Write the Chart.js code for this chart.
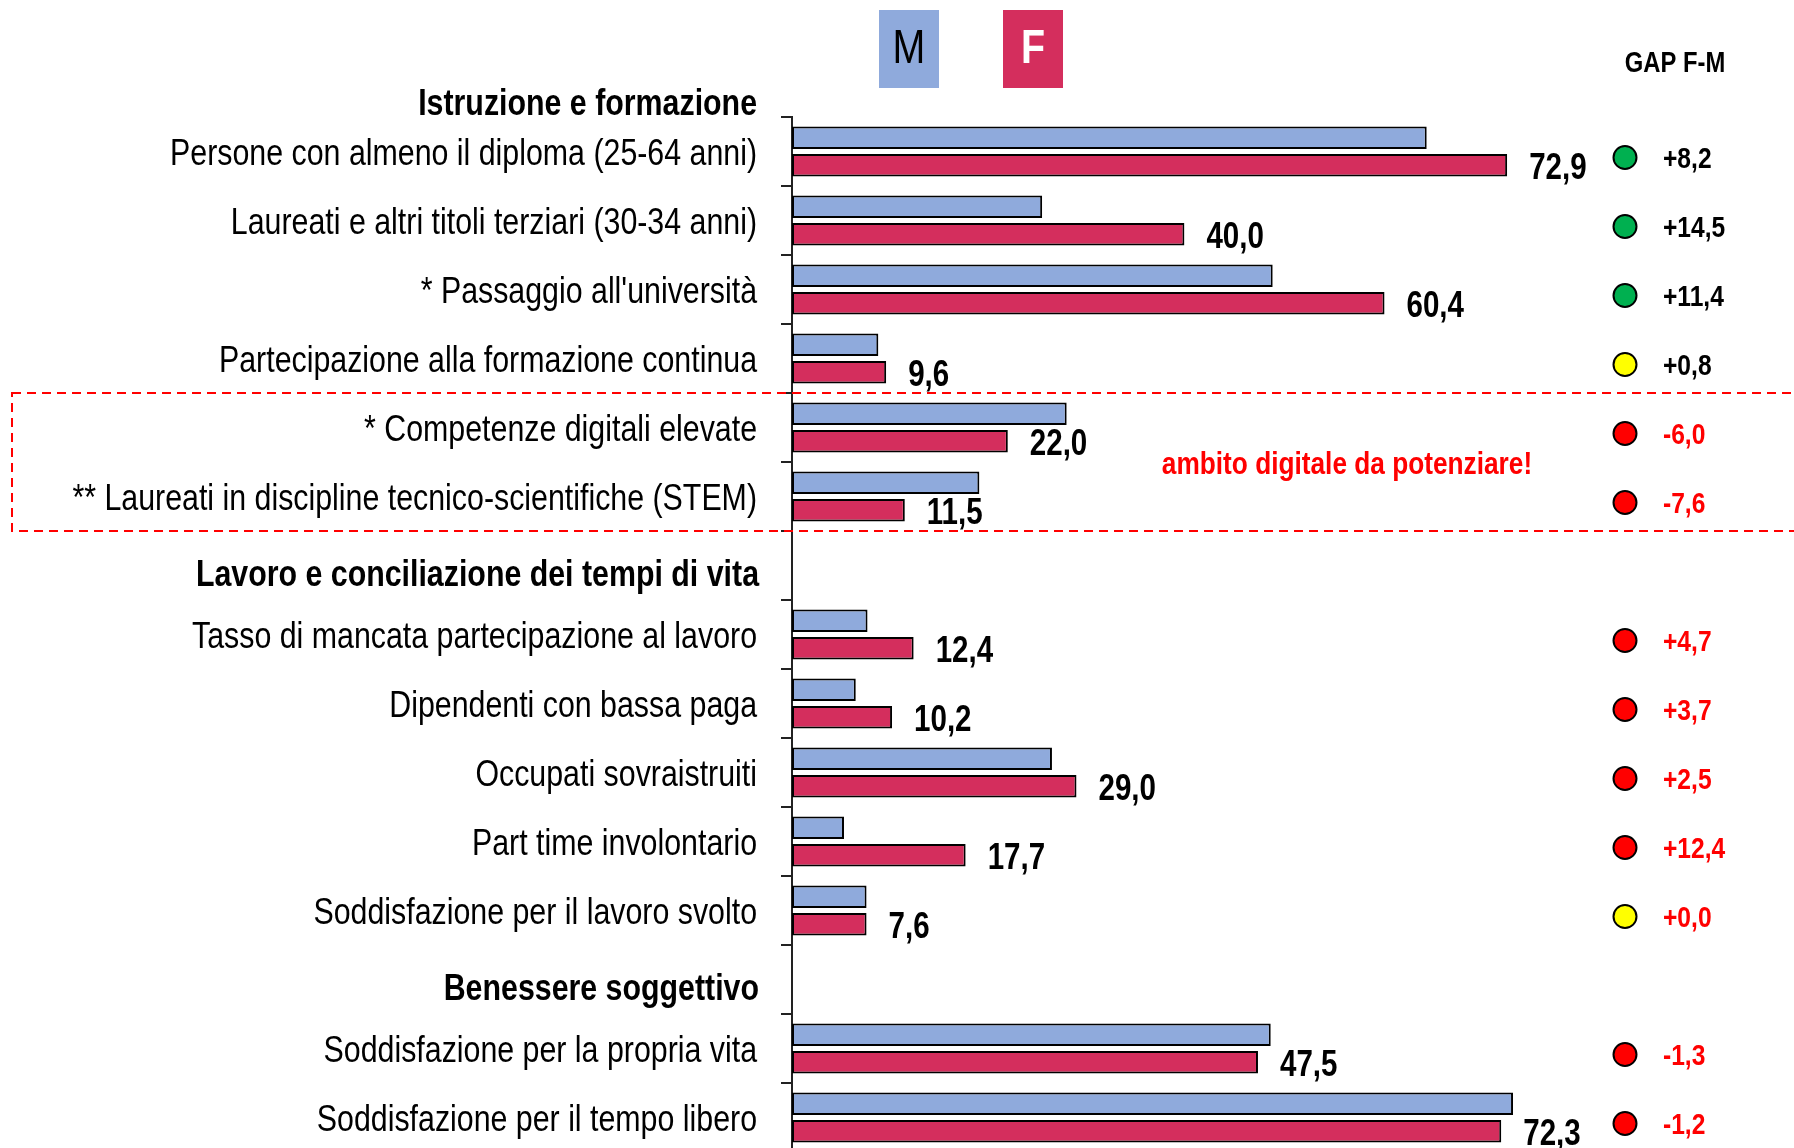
<!DOCTYPE html>
<html>
<head>
<meta charset="utf-8">
<script src="https://cdn.jsdelivr.net/npm/chart.js@4.4.1/dist/chart.umd.min.js"></script>
<style>
  html, body { margin: 0; padding: 0; background: #fff; overflow: hidden; }
  #wrap { position: relative; width: 1794px; height: 1152px; }
</style>
</head>
<body>
<div id="wrap"><canvas id="chart" width="1794" height="1152"></canvas></div>
<script>
// --- DATI ---
const titoloPrimaSezione = "Istruzione e formazione";

const categorie = [
  "Persone con almeno il diploma (25-64 anni)",
  "Laureati e altri titoli terziari (30-34 anni)",
  "* Passaggio all'università",
  "Partecipazione alla formazione continua",
  "* Competenze digitali elevate",
  "** Laureati in discipline tecnico-scientifiche (STEM)",
  "Lavoro e conciliazione dei tempi di vita",
  "Tasso di mancata partecipazione al lavoro",
  "Dipendenti con bassa paga",
  "Occupati sovraistruiti",
  "Part time involontario",
  "Soddisfazione per il lavoro svolto",
  "Benessere soggettivo",
  "Soddisfazione per la propria vita",
  "Soddisfazione per il tempo libero"
];

// tipo di riga: titolo di sezione o indicatore
const sezioni = ["istr", "istr", "istr", "istr", "digit", "digit", "titolo",
  "lavoro", "lavoro", "lavoro", "lavoro", "lavoro", "titolo", "benessere", "benessere"];

const maschi  = [64.7, 25.5, 49.0, 8.8, 28.0, 19.1, null, 7.7, 6.5, 26.5, 5.3, 7.6, null, 48.8, 73.5];
const femmine = [72.9, 40.0, 60.4, 9.6, 22.0, 11.5, null, 12.4, 10.2, 29.0, 17.7, 7.6, null, 47.5, 72.3];
const gapFM   = [8.2, 14.5, 11.4, 0.8, -6.0, -7.6, null, 4.7, 3.7, 2.5, 12.4, 0.0, null, -1.3, -1.2];
const esito   = ["verde", "verde", "verde", "giallo", "rosso", "rosso", null,
  "rosso", "rosso", "rosso", "rosso", "giallo", null, "rosso", "rosso"];

const COL_M = "#8FAADC";
const COL_F = "#D42E5D";
const coloriEsito = { verde: "#00B050", giallo: "#FFFF00", rosso: "#FF0000" };

const fmt = (v) => v.toFixed(1).replace(".", ",");
const fmtGap = (v) => (v >= 0 ? "+" : "") + fmt(v);

// testo "narrow": Liberation Sans compresso in orizzontale
function testo(ctx, txt, x, y, size, bold, color, align) {
  ctx.save();
  ctx.font = (bold ? "bold " : "") + size + "px 'Liberation Sans', Arial, sans-serif";
  ctx.fillStyle = color;
  ctx.textAlign = align;
  ctx.textBaseline = "middle";
  ctx.translate(x, y);
  ctx.scale(0.82, 1);
  ctx.fillText(txt, 0, 0);
  ctx.restore();
}

// --- DECORAZIONI (etichette, legenda, gap) ---
const decorazioni = {
  id: "decorazioni",
  afterDraw(chart) {
    const { ctx, chartArea, scales: { y } } = chart;
    const rowH = y.height / categorie.length;
    const xLab = chartArea.left - 35;
    ctx.save();

    // etichette asse y
    testo(ctx, titoloPrimaSezione, xLab, chartArea.top - 12, 37, true, "#000", "right");
    categorie.forEach((lab, i) => {
      const cy = y.getPixelForValue(i);
      if (sezioni[i] === "titolo") testo(ctx, lab, xLab + 2, cy + 10, 37, true, "#000", "right");
      else testo(ctx, lab, xLab, cy + 3, 37, false, "#000", "right");
    });

    // legenda M / F
    ctx.fillStyle = COL_M;
    ctx.fillRect(879, 10, 60, 78);
    testo(ctx, "M", 909, 50, 48, false, "#000", "center");
    ctx.fillStyle = COL_F;
    ctx.fillRect(1003, 10, 60, 78);
    testo(ctx, "F", 1033, 50, 48, true, "#fff", "center");

    // intestazione colonna gap
    testo(ctx, "GAP F-M", 1675, 64, 29, true, "#000", "center");

    // riquadro tratteggiato ambito digitale
    const idxDig = sezioni.map((s, i) => (s === "digit" ? i : -1)).filter((i) => i >= 0);
    const yTop = y.getPixelForValue(idxDig[0]) - rowH / 2;
    const yBot = y.getPixelForValue(idxDig[idxDig.length - 1]) + rowH / 2;
    ctx.strokeStyle = "#FF0000";
    ctx.lineWidth = 2;
    ctx.setLineDash([9, 6]);
    ctx.strokeRect(12, yTop, chart.width + 20, yBot - yTop);
    ctx.setLineDash([]);
    testo(ctx, "ambito digitale da potenziare!", 1347, (yTop + yBot) / 2 + 3, 32, true, "#FF0000", "center");

    // valori F a destra delle barre
    const metaF = chart.getDatasetMeta(1);
    metaF.data.forEach((bar, i) => {
      if (femmine[i] == null) return;
      testo(ctx, fmt(femmine[i]), bar.x + 22, bar.y + 4, 36, true, "#000", "left");
    });

    // colonna gap: pallino + valore
    gapFM.forEach((g, i) => {
      if (g == null) return;
      const cy = y.getPixelForValue(i);
      ctx.beginPath();
      ctx.arc(1625, cy + 6, 11.5, 0, Math.PI * 2);
      ctx.fillStyle = coloriEsito[esito[i]];
      ctx.fill();
      ctx.lineWidth = 2;
      ctx.strokeStyle = "#000";
      ctx.stroke();
      testo(ctx, fmtGap(g), 1663, cy + 8, 30, true, sezioni[i] === "istr" ? "#000" : "#FF0000", "left");
    });

    ctx.restore();
  }
};

// --- GRAFICO ---
const ctx = document.getElementById("chart");
new Chart(ctx, {
  type: "bar",
  data: {
    labels: categorie,
    datasets: [
      {
        label: "M",
        data: maschi,
        backgroundColor: COL_M,
        borderColor: "#000",
        borderWidth: 2,
        borderSkipped: false,
        categoryPercentage: 0.8,
        barPercentage: 0.82
      },
      {
        label: "F",
        data: femmine,
        backgroundColor: COL_F,
        borderColor: "#000",
        borderWidth: 2,
        borderSkipped: false,
        categoryPercentage: 0.8,
        barPercentage: 0.82
      }
    ]
  },
  options: {
    indexAxis: "y",
    responsive: false,
    animation: false,
    devicePixelRatio: 1,
    layout: { padding: { top: 117, right: 21, bottom: 0, left: 0 } },
    plugins: { legend: { display: false }, tooltip: { enabled: false } },
    scales: {
      x: { display: false, min: 0, max: 100 },
      y: {
        afterFit: (s) => { s.width = 792; },
        border: { display: true, color: "#222", width: 2 },
        grid: { drawOnChartArea: false, drawTicks: true, tickLength: 11, color: "#222", lineWidth: 2 },
        ticks: { display: false, autoSkip: false }
      }
    }
  },
  plugins: [decorazioni]
});
</script>
</body>
</html>
